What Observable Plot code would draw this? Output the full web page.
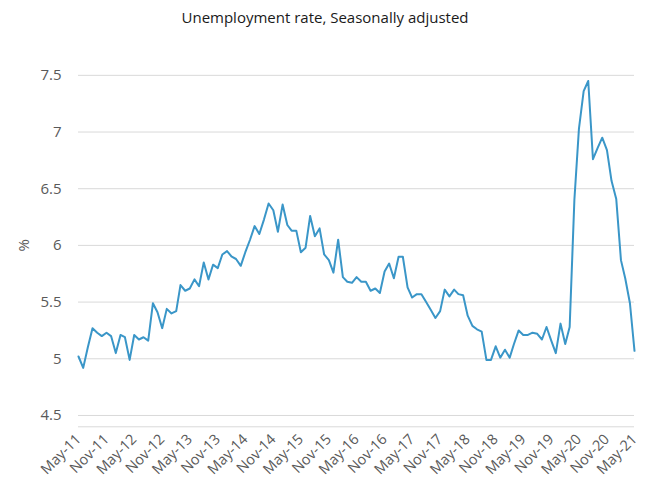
<!DOCTYPE html>
<html>
<head>
<meta charset="utf-8">
<script src="https://cdn.jsdelivr.net/npm/d3@7"></script>
<script src="https://cdn.jsdelivr.net/npm/@observablehq/plot@0.6"></script>
<style>
  html, body { margin: 0; padding: 0; background: #fff; }
  #title { height: 34px; line-height: 34px; text-align: center; font-family: "Open Sans", sans-serif; font-size: 15px; color: #1a1a1a; width: 650px; }
  #chart svg { display: block; }
</style>
</head>
<body>
<div id="title">Unemployment rate, Seasonally adjusted</div>
<div id="chart"></div>
<script>
// Monthly unemployment rate (%), May 2011 – May 2021
const startMonth = "2011-05";
const rates = [
  5.02, 4.92, 5.10, 5.27, 5.23, 5.20, 5.23, 5.20,                   // May-11 .. Dec-11
  5.05, 5.21, 5.19, 4.99, 5.21, 5.17, 5.19, 5.16, 5.49, 5.41, 5.27, 5.44, // 2012
  5.40, 5.42, 5.65, 5.60, 5.62, 5.70, 5.64, 5.85, 5.70, 5.83, 5.80, 5.92, // 2013
  5.95, 5.90, 5.88, 5.82, 5.94, 6.05, 6.17, 6.10, 6.23, 6.37, 6.31, 6.12, // 2014
  6.36, 6.18, 6.13, 6.13, 5.94, 5.98, 6.26, 6.08, 6.15, 5.92, 5.87, 5.76, // 2015
  6.05, 5.72, 5.68, 5.67, 5.72, 5.68, 5.68, 5.60, 5.62, 5.58, 5.77, 5.84, // 2016
  5.71, 5.90, 5.90, 5.63, 5.54, 5.57, 5.57, 5.50, 5.43, 5.36, 5.42, 5.61, // 2017
  5.55, 5.61, 5.57, 5.56, 5.38, 5.29, 5.26, 5.24, 4.99, 4.99, 5.11, 5.01, // 2018
  5.08, 5.01, 5.13, 5.25, 5.21, 5.21, 5.23, 5.22, 5.17, 5.28, 5.16, 5.05, // 2019
  5.31, 5.13, 5.28, 6.40, 7.03, 7.36, 7.45, 6.76, 6.86, 6.95, 6.84, 6.57, // 2020
  6.41, 5.87, 5.71, 5.49, 5.07                                        // Jan-21 .. May-21
];
const xTickLabels = ["May-11","Nov-11","May-12","Nov-12","May-13","Nov-13","May-14","Nov-14",
  "May-15","Nov-15","May-16","Nov-16","May-17","Nov-17","May-18","Nov-18","May-19","Nov-19",
  "May-20","Nov-20","May-21"];
const yTicks = [4.5, 5, 5.5, 6, 6.5, 7, 7.5];
const yLabel = "%";

const parseMonth = d3.utcParse("%b-%y");
const start = d3.utcParse("%Y-%m")(startMonth);
const data = rates.map((v, i) => ({date: d3.utcMonth.offset(start, i), value: v}));
const tickDates = xTickLabels.map(parseMonth);
const labelByTime = new Map(tickDates.map((d, i) => [+d, xTickLabels[i]]));

const chart = Plot.plot({
  width: 650,
  height: 454,
  marginLeft: 78,
  marginRight: 16,
  marginTop: 29.5,
  marginBottom: 61.7,
  style: {fontFamily: "'Open Sans', sans-serif", fontSize: "14px", color: "#595959", background: "#fff"},
  x: {type: "utc", domain: [data[0].date, data[data.length - 1].date]},
  y: {domain: [4.4, 7.6]},
  marks: [
    Plot.ruleY(yTicks, {stroke: "#d9d9d9", strokeWidth: 1}),
    Plot.ruleY([4.4], {stroke: "#d9d9d9", strokeWidth: 1}),
    Plot.lineY(data, {x: "date", y: "value", stroke: "#3a96c8", strokeWidth: 2}),
    Plot.axisY({ticks: yTicks, tickSize: 0, tickPadding: 17, tickFormat: d => String(d),
      label: yLabel, labelAnchor: "center", labelArrow: "none", labelOffset: 60, fontSize: 15}),
    Plot.axisX({ticks: tickDates, tickSize: 0, tickPadding: 10, tickRotate: -45,
      tickFormat: d => labelByTime.get(+d), label: null, fontSize: 14.5})
  ]
});
document.getElementById("chart").appendChild(chart);
</script>
</body>
</html>
